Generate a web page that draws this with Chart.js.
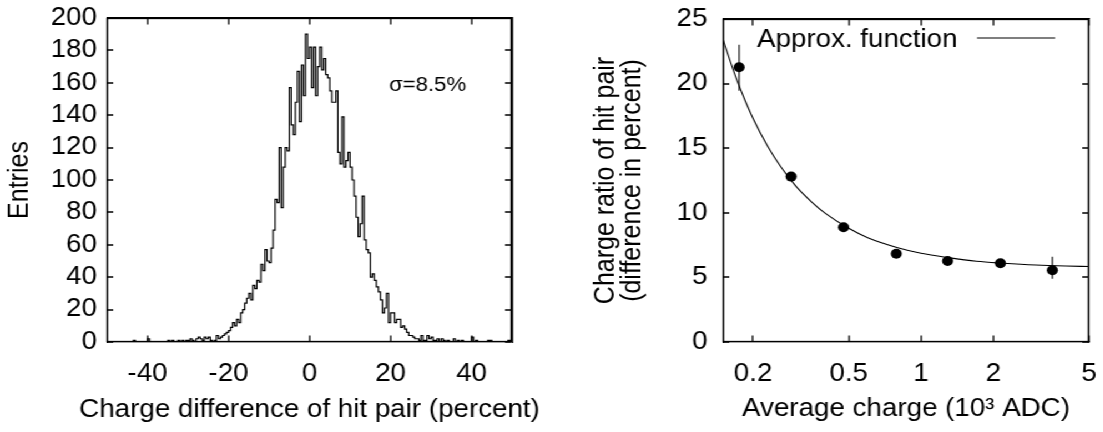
<!DOCTYPE html>
<html>
<head>
<meta charset="utf-8">
<script src="https://cdn.jsdelivr.net/npm/chart.js@4.4.1/dist/chart.umd.min.js"></script>
<style>
  html, body { margin: 0; padding: 0; background: #fff; overflow: hidden; }
  /* the original figure is stretched a little horizontally */
  #wrap { position: absolute; left: 0; top: 0; width: 994px; height: 432px;
          transform: scaleX(1.11); transform-origin: 0 0; }
  #left { position: absolute; left: 0; top: 0; }
  #right { position: absolute; left: 491px; top: 0; }
</style>
</head>
<body>
<div id="wrap">
<canvas id="left" width="491" height="432"></canvas>
<canvas id="right" width="503" height="432"></canvas>
</div>
<script>
// ---- left panel: histogram of charge difference (bins of 0.5 %, -50..50) ----
var binStart = -50;
var binWidth = 0.5;
var hitCounts = [
  0, 0, 0, 0, 0, 0, 0, 0, 0, 0,
  0, 0, 0, 1, 0, 0, 0, 0, 0, 0,
  2, 0, 0, 0, 0, 0, 0, 0, 0, 0,
  1, 0, 1, 0, 0, 1, 0, 1, 0, 1,
  1, 2, 1, 0, 2, 3, 2, 1, 3, 2,
  3, 1, 0, 1, 4, 2, 3, 4, 5, 6,
  7, 9, 12, 10, 14, 12, 18, 20, 24, 27,
  30, 26, 35, 33, 38, 37, 48, 44, 57, 50,
  49, 58, 69, 88, 86, 120, 83, 108, 120, 118,
  157, 134, 128, 148, 167, 136, 171, 152, 190, 175,
  182, 157, 182, 152, 170, 182, 168, 175, 165, 163,
  155, 148, 148, 155, 117, 110, 139, 108, 112, 117,
  108, 100, 90, 77, 65, 73, 90, 63, 57, 55,
  40, 42, 38, 34, 31, 26, 18, 21, 30, 12,
  18, 18, 12, 14, 14, 9, 10, 8, 6, 4,
  4, 3, 2, 2, 1, 4, 1, 1, 4, 2,
  3, 1, 1, 2, 0, 2, 1, 0, 1, 0,
  0, 2, 0, 1, 0, 1, 0, 0, 0, 0,
  3, 0, 1, 0, 0, 0, 0, 0, 1, 1,
  0, 0, 0, 0, 0, 0, 0, 0, 1, 0
];
var diffTicks = [-40, -20, 0, 20, 40];
var entryTicks = [0, 20, 40, 60, 80, 100, 120, 140, 160, 180, 200];

// ---- right panel: charge ratio vs average charge ----
var avgCharge = [0.175, 0.288, 0.476, 0.789, 1.29, 2.14, 3.52];
var chargeRatio = [21.26, 12.8, 8.88, 6.83, 6.27, 6.09, 5.55];
var ratioLow = [19.45, 12.5, 8.6, 6.55, 6.0, 5.8, 4.9];
var ratioHigh = [23.0, 13.1, 9.2, 7.1, 6.55, 6.4, 6.6];
var fitX = [0.15, 0.165, 0.18, 0.2, 0.23, 0.26, 0.3, 0.35, 0.4, 0.5, 0.6, 0.8, 1.0, 1.3, 1.7, 2.2, 3, 4, 5];
var fitY = [23.4, 21.1, 19.25, 17.3, 15.15, 13.6, 12.1, 10.85, 9.95, 8.8, 8.07, 7.3, 6.87, 6.53, 6.25, 6.1, 5.96, 5.88, 5.84];
var chargeTicks = [0.2, 0.5, 1, 2, 5];
var ratioTicks = [0, 5, 10, 15, 20, 25];

var FONT = "'Liberation Sans', Arial, Helvetica, sans-serif";
Chart.defaults.font.family = FONT;
Chart.defaults.color = '#000';

// box round the plot with inward ticks on all four sides (gnuplot look)
var frameTicks = {
  id: 'frameTicks',
  afterDraw: function(chart) {
    var ctx = chart.ctx, a = chart.chartArea;
    var xs = chart.scales.x, ys = chart.scales.y;
    var L = Math.round(a.left) + 0.5, R = Math.round(a.right) - 0.5;
    var T = Math.round(a.top) + 0.5, B = Math.round(a.bottom) - 0.5;
    ctx.save();
    ctx.strokeStyle = '#000';
    ctx.lineWidth = 1.3;
    ctx.strokeRect(L, T, R - L, B - T);
    ctx.beginPath();
    xs.ticks.forEach(function(tk) {
      var px = Math.round(xs.getPixelForValue(tk.value));
      ctx.moveTo(px, B); ctx.lineTo(px, B - 6);
      ctx.moveTo(px, T); ctx.lineTo(px, T + 6);
    });
    ys.ticks.forEach(function(tk) {
      var py = Math.round(ys.getPixelForValue(tk.value));
      ctx.moveTo(L, py); ctx.lineTo(L + 5.5, py);
      ctx.moveTo(R, py); ctx.lineTo(R - 5.5, py);
    });
    ctx.stroke();
    ctx.restore();
  }
};

// free text: in-plot labels, legend sample and the x axis title
var plotLabels = {
  id: 'plotLabels',
  afterDraw: function(chart, args, opts) {
    var ctx = chart.ctx, a = chart.chartArea;
    ctx.save();
    ctx.fillStyle = '#000';
    ctx.strokeStyle = '#000';
    ctx.textBaseline = 'middle';
    (opts.items || []).forEach(function(it) {
      ctx.font = it.size + 'px ' + FONT;
      if (it.align === 'center') {
        ctx.textAlign = 'center';
        ctx.fillText(it.text, (a.left + a.right) / 2, it.y);
      } else {
        ctx.textAlign = 'left';
        ctx.fillText(it.text, a.left + it.dx, a.top + it.dy);
      }
      if (it.lineFrom !== undefined) {
        ctx.lineWidth = 1.2;
        ctx.beginPath();
        ctx.moveTo(a.right - it.lineFrom, Math.round(a.top + it.lineDy));
        ctx.lineTo(a.right - it.lineTo, Math.round(a.top + it.lineDy));
        ctx.stroke();
      }
    });
    ctx.restore();
  }
};

// vertical error bars for the measured points
var errorBars = {
  id: 'errorBars',
  beforeDatasetsDraw: function(chart) {
    var ctx = chart.ctx, xs = chart.scales.x, ys = chart.scales.y;
    ctx.save();
    ctx.strokeStyle = '#000';
    ctx.lineWidth = 1.1;
    ctx.beginPath();
    for (var i = 0; i < avgCharge.length; i++) {
      var px = xs.getPixelForValue(avgCharge[i]);
      ctx.moveTo(px, ys.getPixelForValue(ratioLow[i]));
      ctx.lineTo(px, ys.getPixelForValue(ratioHigh[i]));
    }
    ctx.stroke();
    ctx.restore();
  }
};

function fixedX(s) { s.height = 90; s.paddingLeft = 0; s.paddingRight = 0; }
var axisBorder = {display: true, color: '#000', width: 1.3};

// empty mirror axes: they only give the frame its top and right edges
var mirrorTop = {
  type: 'linear', position: 'top', min: 0, max: 1,
  afterFit: function(s) { s.height = 0; s.paddingLeft = 0; s.paddingRight = 0; },
  grid: {display: false, drawTicks: false},
  border: axisBorder,
  ticks: {display: false}
};
var mirrorRight = {
  type: 'linear', position: 'right', min: 0, max: 1,
  afterFit: function(s) { s.width = 0; s.paddingTop = 0; s.paddingBottom = 0; },
  grid: {display: false, drawTicks: false},
  border: axisBorder,
  ticks: {display: false}
};

var histPoints = [];
for (var i = 0; i < hitCounts.length; i++) {
  histPoints.push({x: binStart + i * binWidth, y: hitCounts[i]});
}
histPoints.push({x: binStart + hitCounts.length * binWidth, y: hitCounts[hitCounts.length - 1]});

var tickFont = {size: 25};

new Chart(document.getElementById('left'), {
  type: 'line',
  data: {
    datasets: [{
      label: 'Entries',
      data: histPoints,
      stepped: 'before',
      borderColor: '#000',
      borderWidth: 1.2,
      pointRadius: 0,
      fill: false
    }]
  },
  options: {
    responsive: false,
    animation: false,
    devicePixelRatio: 1,
    layout: {padding: {top: 18, right: 29.7, left: 0, bottom: 0}},
    plugins: {
      legend: {display: false},
      tooltip: {enabled: false},
      plotLabels: {items: [
        {text: '\u03c3=8.5%', size: 20, dx: 254, dy: 67},
        {text: 'Charge difference of hit pair (percent)', size: 25, align: 'center', y: 410}
      ]}
    },
    scales: {
      x: {
        type: 'linear', min: -50, max: 50,
        afterBuildTicks: function(s) { s.ticks = diffTicks.map(function(v) { return {value: v}; }); },
        afterFit: fixedX,
        grid: {display: false, drawTicks: false},
        border: axisBorder,
        ticks: {font: tickFont, padding: 17, maxRotation: 0, autoSkip: false}
      },
      y: {
        type: 'linear', min: 0, max: 200,
        afterBuildTicks: function(s) { s.ticks = entryTicks.map(function(v) { return {value: v}; }); },
        afterFit: function(s) { s.width = 96.4; s.paddingTop = 0; s.paddingBottom = 0; },
        grid: {display: false, drawTicks: false},
        border: axisBorder,
        ticks: {font: tickFont, padding: 9, autoSkip: false},
        title: {display: true, text: 'Entries', font: {size: 25}, padding: {top: 3, bottom: 0}}
      },
      x2: mirrorTop,
      y2: mirrorRight
    }
  },
  plugins: [frameTicks, plotLabels]
});

var fitPoints = fitX.map(function(x, i) { return {x: x, y: fitY[i]}; });
var measPoints = avgCharge.map(function(x, i) { return {x: x, y: chargeRatio[i]}; });

new Chart(document.getElementById('right'), {
  type: 'line',
  data: {
    datasets: [{
      label: 'Approx. function',
      data: fitPoints,
      borderColor: '#000',
      borderWidth: 1.1,
      pointRadius: 0,
      cubicInterpolationMode: 'monotone',
      fill: false
    }, {
      label: 'Measured',
      data: measPoints,
      showLine: false,
      pointRadius: 5,
      pointBorderWidth: 0,
      pointBackgroundColor: '#000',
      borderColor: '#000'
    }]
  },
  options: {
    responsive: false,
    animation: false,
    devicePixelRatio: 1,
    layout: {padding: {top: 19, right: 12.9, left: 0, bottom: 0}},
    plugins: {
      legend: {display: false},
      tooltip: {enabled: false},
      plotLabels: {items: [
        {text: 'Approx. function', size: 25, dx: 30.6, dy: 21, lineFrom: 100.9, lineTo: 30.6, lineDy: 19},
        {text: 'Average charge (10\u00b3 ADC)', size: 25, align: 'center', y: 409}
      ]}
    },
    scales: {
      x: {
        type: 'logarithmic', min: 0.15, max: 5,
        afterBuildTicks: function(s) { s.ticks = chargeTicks.map(function(v) { return {value: v}; }); },
        afterFit: fixedX,
        grid: {display: false, drawTicks: false},
        border: axisBorder,
        ticks: {font: tickFont, padding: 17, maxRotation: 0, autoSkip: false,
          callback: function(v) { return String(v); }}
      },
      y: {
        type: 'linear', min: 0, max: 25,
        afterBuildTicks: function(s) { s.ticks = ratioTicks.map(function(v) { return {value: v}; }); },
        afterFit: function(s) { s.width = 160.4; s.paddingTop = 0; s.paddingBottom = 0; },
        grid: {display: false, drawTicks: false},
        border: axisBorder,
        ticks: {font: tickFont, padding: 14, autoSkip: false},
        title: {display: true, text: ['Charge ratio of hit pair', '(difference in percent)'],
          font: {size: 25, lineHeight: 0.97}, padding: {top: 43, bottom: 0}}
      },
      x2: mirrorTop,
      y2: mirrorRight
    }
  },
  plugins: [errorBars, frameTicks, plotLabels]
});
</script>
</body>
</html>
